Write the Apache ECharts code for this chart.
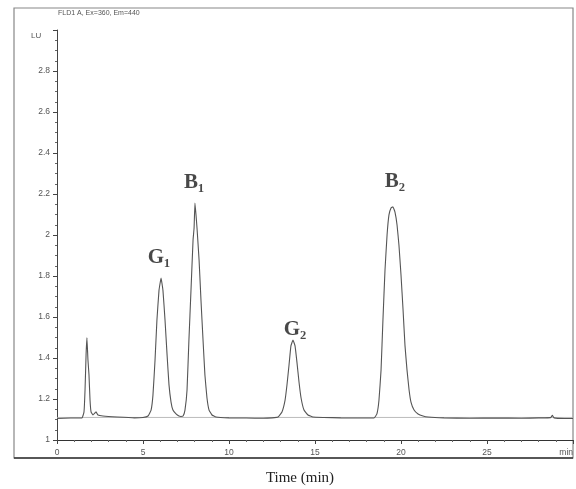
<!DOCTYPE html>
<html>
<head>
<meta charset="utf-8">
<script src="https://cdn.jsdelivr.net/npm/echarts@6/dist/echarts.min.js"></script>
<style>
  html, body { margin: 0; padding: 0; background: #fff; }
  #chart { width: 576px; height: 489px; }
</style>
</head>
<body>
<div id="chart"></div>
<script>
// chromatogram trace: [time (min), signal (LU)]
const trace = [
  [0, 1.105], [0.8, 1.107], [1.45, 1.107], [1.57, 1.137], [1.63, 1.244], [1.69, 1.415],
  [1.74, 1.498], [1.80, 1.39], [1.86, 1.317], [1.92, 1.195], [1.98, 1.137], [2.09, 1.122],
  [2.27, 1.137], [2.38, 1.122], [2.67, 1.117], [3.5, 1.112], [4.5, 1.108], [5.0, 1.11],
  [5.29, 1.117], [5.47, 1.146], [5.58, 1.22], [5.70, 1.39], [5.81, 1.585], [5.93, 1.73],
  [6.05, 1.79], [6.16, 1.73], [6.28, 1.585], [6.40, 1.415], [6.51, 1.27], [6.63, 1.185],
  [6.74, 1.146], [6.92, 1.127], [7.09, 1.117], [7.2, 1.115],
  [7.33, 1.117], [7.44, 1.146], [7.56, 1.244], [7.67, 1.488], [7.79, 1.73], [7.91, 1.976],
  [7.97, 2.034], [8.02, 2.156], [8.08, 2.10], [8.14, 2.034], [8.26, 1.878], [8.37, 1.683],
  [8.49, 1.488], [8.60, 1.317], [8.72, 1.205], [8.84, 1.146], [9.01, 1.122], [9.24, 1.112],
  [10, 1.108], [11, 1.107], [12, 1.106], [12.5, 1.108],
  [12.85, 1.112], [13.08, 1.137], [13.26, 1.195], [13.37, 1.268], [13.49, 1.366], [13.60, 1.459],
  [13.72, 1.488], [13.84, 1.459], [13.95, 1.38], [14.07, 1.283], [14.19, 1.205], [14.36, 1.146],
  [14.59, 1.122], [14.88, 1.112], [15.5, 1.11], [16.5, 1.108], [17.5, 1.107], [18.2, 1.107],
  [18.43, 1.107], [18.60, 1.127], [18.72, 1.195], [18.84, 1.341], [18.95, 1.585], [19.07, 1.829],
  [19.19, 2.0], [19.30, 2.098], [19.42, 2.132], [19.53, 2.137], [19.65, 2.112], [19.77, 2.049],
  [19.88, 1.951], [20.0, 1.805], [20.12, 1.634], [20.23, 1.463], [20.35, 1.341], [20.47, 1.244],
  [20.58, 1.185], [20.76, 1.146], [20.99, 1.127], [21.28, 1.117], [21.57, 1.112],
  [22.5, 1.108], [24, 1.106], [25.5, 1.107], [27, 1.106], [28, 1.108], [28.7, 1.109],
  [28.8, 1.12], [28.9, 1.108], [29.5, 1.105], [30, 1.105]
];

// straight integration baseline under the peaks
const baseline = [[0, 1.11], [30, 1.11]];

// peak annotations
const peakNames = ['G\u2081', 'B\u2081', 'G\u2082', 'B\u2082'];
const peakTimes = [5.93, 7.97, 13.84, 19.65];
const peakLabelLevels = [1.888, 2.254, 1.541, 2.259];

const yTicks = [1, 1.2, 1.4, 1.6, 1.8, 2, 2.2, 2.4, 2.6, 2.8];
const xTicks = [0, 5, 10, 15, 20, 25];

const chart = echarts.init(document.getElementById('chart'));

chart.setOption({
  animation: false,
  backgroundColor: '#fff',
  textStyle: { fontFamily: 'Liberation Sans' },
  grid: { left: 57, right: 3, top: 30, bottom: 49 },
  xAxis: {
    type: 'value',
    min: 0,
    max: 30,
    interval: 5,
    axisLine: { lineStyle: { color: '#333', width: 1.2 } },
    axisTick: { length: 4, lineStyle: { color: '#444' } },
    minorTick: { show: true, splitNumber: 5, length: 2, lineStyle: { color: '#666' } },
    splitLine: { show: false },
    axisLabel: {
      color: '#555',
      fontSize: 8.5,
      margin: 8,
      showMaxLabel: true,
      alignMaxLabel: 'right',
      formatter: (v) => (v === 30 ? 'min' : (xTicks.includes(v) ? String(v) : ''))
    }
  },
  yAxis: {
    type: 'value',
    min: 1,
    max: 3,
    interval: 0.2,
    axisLine: { show: true, lineStyle: { color: '#444', width: 1 } },
    axisTick: { length: 4, lineStyle: { color: '#444' } },
    minorTick: { show: true, splitNumber: 4, length: 2, lineStyle: { color: '#666' } },
    splitLine: { show: false },
    axisLabel: {
      color: '#555',
      fontSize: 8.5,
      margin: 7,
      formatter: (v) => {
        const t = yTicks.find((y) => Math.abs(y - v) < 1e-6);
        return t === undefined ? '' : String(t);
      }
    }
  },
  series: [
    {
      type: 'line',
      data: baseline,
      symbol: 'none',
      silent: true,
      lineStyle: { color: '#aaa', width: 0.8 },
      z: 1
    },
    {
      type: 'line',
      data: trace,
      symbol: 'none',
      smooth: 0.1,
      lineStyle: { color: '#555', width: 1.1 },
      z: 2
    },
    {
      type: 'scatter',
      symbolSize: 0,
      silent: true,
      data: peakTimes.map((t, i) => [t, peakLabelLevels[i], peakNames[i]]),
      label: {
        show: true,
        position: 'inside',
        formatter: (p) => p.data[2],
        fontFamily: 'Liberation Serif',
        fontSize: 21,
        fontWeight: 'bold',
        color: '#1a1a1a'
      },
      z: 3
    }
  ],
  graphic: [
    {
      type: 'rect',
      shape: { x: 14, y: 8, width: 559, height: 450 },
      style: { fill: null, stroke: '#888', lineWidth: 1.2 },
      silent: true
    },
    {
      type: 'line',
      shape: { x1: 14, y1: 458, x2: 573, y2: 458 },
      style: { stroke: '#333', lineWidth: 1.6 },
      silent: true
    },
    {
      type: 'text',
      left: 58,
      top: 10,
      style: { text: 'FLD1 A, Ex=360, Em=440', fontSize: 7, fill: '#555', fontFamily: 'Liberation Sans' }
    },
    {
      type: 'text',
      left: 31,
      top: 32,
      style: { text: 'LU', fontSize: 8, fill: '#555', fontFamily: 'Liberation Sans' }
    },
    {
      type: 'text',
      x: 300,
      y: 478,
      style: {
        text: 'Time (min)',
        fontSize: 15,
        fill: '#222',
        fontFamily: 'Liberation Serif',
        align: 'center',
        verticalAlign: 'middle'
      }
    }
  ]
});
</script>
</body>
</html>
